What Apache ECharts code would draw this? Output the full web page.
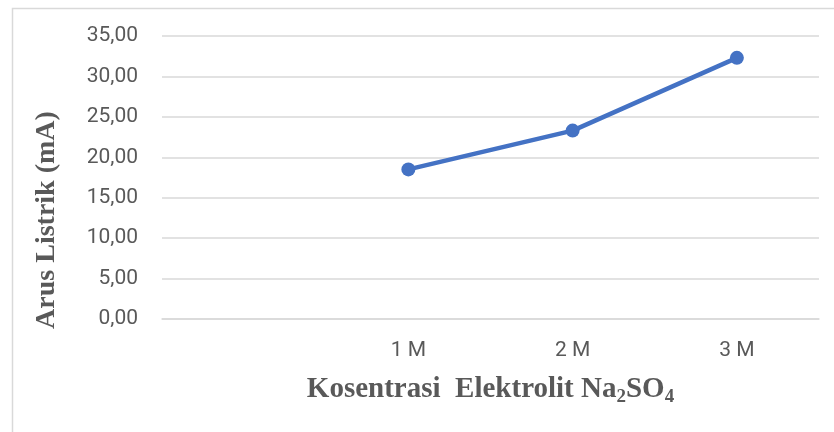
<!DOCTYPE html>
<html>
<head>
<meta charset="utf-8">
<script src="https://cdn.jsdelivr.net/npm/echarts@6/dist/echarts.min.js"></script>
<style>
html,body{margin:0;padding:0;background:#fff;}
#main{width:834px;height:432px;}
</style>
</head>
<body>
<div id="main"></div>
<script>
var categories = ["", "1 M", "2 M", "3 M"];
var arusValues = [null, 18.5, 23.3, 32.3];
var yTitle = "Arus Listrik (mA)";

var chart = echarts.init(document.getElementById('main'));
chart.setOption({
  animation: false,
  graphic: [
    {type: 'rect', left: 10, top: 6, shape: {width: 900, height: 500}, style: {fill: 'none', stroke: '#d9d9d9', lineWidth: 1.5}, silent: true},
    {type: 'text', x: 47, y: 220, rotation: Math.PI / 2,
     style: {text: yTitle, font: 'bold 28px "Liberation Serif"', fill: '#595959', align: 'center', verticalAlign: 'middle'}}
  ],
  grid: {left: 162, right: 15, top: 36, bottom: 113},
  xAxis: {
    type: 'category',
    data: categories,
    boundaryGap: true,
    axisLine: {show: true, lineStyle: {color: '#d9d9d9', width: 1.5}},
    axisTick: {show: false},
    axisLabel: {color: '#595959', fontSize: 21, fontFamily: 'Roboto', margin: 21},
    name: '{a|Kosentrasi  Elektrolit Na}{s|2}{a|SO}{s|4}',
    nameLocation: 'middle',
    nameGap: 56,
    nameTextStyle: {
      rich: {
        a: {fontFamily: 'Liberation Serif', fontWeight: 'bold', fontSize: 29, color: '#595959', lineHeight: 32, verticalAlign: 'top'},
        s: {fontFamily: 'Liberation Serif', fontWeight: 'bold', fontSize: 19, color: '#595959', lineHeight: 20, verticalAlign: 'bottom'}
      }
    }
  },
  yAxis: {
    type: 'value',
    min: 0, max: 35, interval: 5,
    axisLine: {show: false},
    axisTick: {show: false},
    splitLine: {lineStyle: {color: '#d9d9d9', width: 1.5}},
    axisLabel: {color: '#595959', fontSize: 21, fontFamily: 'Roboto', margin: 24,
      formatter: function (v) { return v.toFixed(2).replace('.', ','); }}
  },
  series: [{
    type: 'line',
    data: arusValues,
    symbol: 'circle',
    symbolSize: 14,
    lineStyle: {color: '#4472C4', width: 4.5},
    itemStyle: {color: '#4472C4'},
    connectNulls: false
  }]
});
</script>
</body>
</html>
